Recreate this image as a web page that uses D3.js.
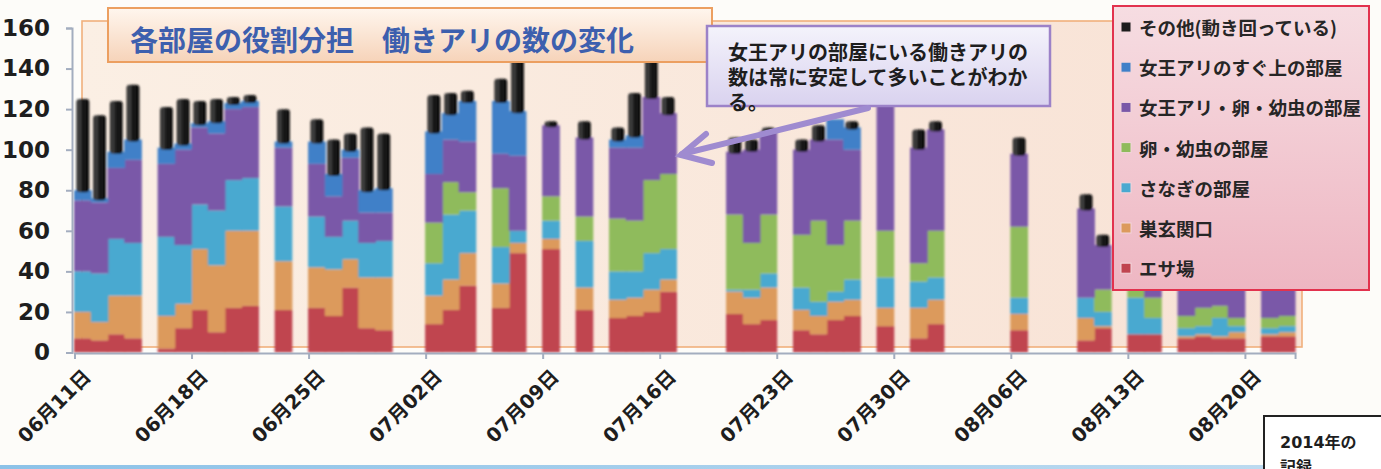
<!DOCTYPE html>
<html>
<head>
<meta charset="utf-8">
<script src="https://cdn.jsdelivr.net/npm/d3@7"></script>
<style>
  html, body { margin: 0; padding: 0; background: #fdfcf9; }
  svg { display: block; }
</style>
</head>
<body>
<svg id="chart" width="1381" height="469"></svg>
<script>
// Survey days (only days with a count are listed)
const days = [
  "2014-06-11","2014-06-12","2014-06-13","2014-06-14","2014-06-16","2014-06-17","2014-06-18","2014-06-19",
  "2014-06-20","2014-06-21","2014-06-23","2014-06-25","2014-06-26","2014-06-27","2014-06-28","2014-06-29",
  "2014-07-02","2014-07-03","2014-07-04","2014-07-06","2014-07-07","2014-07-09","2014-07-11","2014-07-13",
  "2014-07-14","2014-07-15","2014-07-16","2014-07-20","2014-07-21","2014-07-22","2014-07-24","2014-07-25",
  "2014-07-26","2014-07-27","2014-07-29","2014-07-31","2014-08-01","2014-08-06","2014-08-10","2014-08-11",
  "2014-08-13","2014-08-14","2014-08-16","2014-08-17","2014-08-18","2014-08-19","2014-08-21","2014-08-22"
];

// Worker ants per room (stacked bottom to top)
const esaba      = [7,6,9,7,2,12,21,10,22,23,21,22,18,32,12,11,14,21,33,22,49,51,21,17,18,20,30,19,14,16,11,9,16,18,13,7,14,11,6,12,9,9,7,8,7,7,8,8];
const genkan     = [13,9,19,21,16,12,30,33,38,37,24,20,23,14,25,26,14,15,16,12,5,5,11,9,9,11,6,11,13,16,10,9,9,8,9,15,12,8,11,1,0,0,1,1,1,3,1,2];
const sanagi     = [20,24,28,26,39,29,22,27,25,26,27,25,16,19,17,18,16,32,21,18,6,9,23,14,13,18,15,1,4,7,11,7,5,10,15,13,11,8,10,7,18,8,4,4,9,3,3,3];
const youchu     = [0,0,0,0,0,0,0,0,0,0,0,0,0,0,0,0,20,16,9,29,0,12,12,26,25,36,37,37,23,29,26,40,23,29,23,9,23,35,0,11,11,10,6,9,6,4,5,5];
const joouRoom   = [35,35,35,41,36,47,38,38,35,35,29,26,20,31,15,14,24,21,25,17,37,35,39,35,36,41,30,31,46,41,42,40,52,35,68,57,50,36,44,22,14,19,42,40,38,44,42,44];
const joouUe     = [5,2,8,10,8,3,2,6,3,3,3,11,11,4,11,12,21,13,20,26,22,0,0,4,6,0,0,0,0,0,0,0,10,11,0,0,0,0,0,0,0,0,0,0,0,0,0,0];
const sonota     = [45,41,25,27,20,22,11,11,3,3,16,11,17,8,31,27,18,10,5,11,27,2,8,6,21,20,8,7,5,2,5,7,0,3,4,9,4,8,7,5,4,4,4,4,4,4,4,4];

const seriesNames = ["エサ場","巣玄関口","さなぎの部屋","卵・幼虫の部屋","女王アリ・卵・幼虫の部屋","女王アリのすぐ上の部屋","その他(動き回っている)"];
const seriesColors = ["#c0444f","#dc9a5c","#4aa9d0","#8fbb5b","#7a58a8","#3f80c8","#1c1c1c"];
const seriesValues = [esaba, genkan, sanagi, youchu, joouRoom, joouUe, sonota];

const tickDays = ["2014-06-11","2014-06-18","2014-06-25","2014-07-02","2014-07-09","2014-07-16","2014-07-23","2014-07-30","2014-08-06","2014-08-13","2014-08-20"];
const yTicks = [0,20,40,60,80,100,120,140,160];

const titleText = "各部屋の役割分担　働きアリの数の変化";
const noteLines = ["女王アリの部屋にいる働きアリの","数は常に安定して多いことがわか","る。"];
const yearLines = ["2014年の","記録"];

const parse = d3.utcParse("%Y-%m-%d");
const fmt = d3.utcFormat("%m月%d日");
const numFont = "'DejaVu Sans', 'Noto Sans CJK JP', sans-serif";
const cjkFont = "'Noto Sans CJK JP', sans-serif";

// table for stacking
const keys = seriesNames.map((_, i) => "s" + i);
const rows = days.map((d, j) => {
  const r = { date: parse(d) };
  seriesValues.forEach((arr, i) => { r["s" + i] = arr[j]; });
  return r;
});
const stacked = d3.stack().keys(keys)(rows);

const svg = d3.select("#chart");
const defs = svg.append("defs");

function grad(id, stops, horizontal) {
  const g = defs.append("linearGradient").attr("id", id)
    .attr("x1", 0).attr("y1", 0).attr("x2", horizontal ? 1 : 0).attr("y2", horizontal ? 0 : 1);
  stops.forEach(([o, c]) => g.append("stop").attr("offset", o).attr("stop-color", c));
}
grad("plotBg", [[0, "#fbefe4"], [1, "#f8e2d5"]], true);
grad("titleBg", [[0, "#fff6ee"], [1, "#f6d3b9"]]);
grad("noteBg", [[0, "#f4f3fb"], [1, "#d9d2ef"]]);
grad("legendBg", [[0, "#f6dde2"], [1, "#eeb6c2"]]);
grad("blackBar", [[0, "#0c0c0c"], [0.22, "#4a4a4a"], [0.4, "#1e1e1e"], [1, "#0a0a0a"]], true);
grad("blueLine", [[0, "#8cc2e8"], [1, "#bcdaf0"]], true);
defs.append("filter").attr("id", "soft").attr("x", "-5%").attr("y", "-5%").attr("width", "110%").attr("height", "110%")
  .append("feGaussianBlur").attr("stdDeviation", 0.9);

// scales
const dayW = 16.72;
const x = d3.scaleUtc()
  .domain([parse("2014-06-11"), parse("2014-08-23")])
  .range([74.5, 74.5 + 73 * dayW]);
const y = d3.scaleLinear().domain([0, 160]).range([352.5, 28]);

// plot area
svg.append("rect").attr("x", 82).attr("y", 21).attr("width", 1220).attr("height", 326)
  .attr("fill", "url(#plotBg)").attr("stroke", "#f1b07c").attr("stroke-width", 1.6);

// coloured room layers
const bars = svg.append("g").attr("filter", "url(#soft)");
stacked.slice(0, 6).forEach((layer, i) => {
  bars.append("g").attr("fill", seriesColors[i])
    .selectAll("rect").data(layer.filter(d => d[1] > d[0])).join("rect")
    .attr("x", d => x(d.data.date) - 0.5)
    .attr("width", d => x(d3.utcDay.offset(d.data.date, 1)) - x(d.data.date) + 1)
    .attr("y", d => y(d[1]))
    .attr("height", d => y(d[0]) - y(d[1]));
});

// moving-around ants drawn as separate rounded caps
bars.append("g").selectAll("rect").data(stacked[6].filter(d => d[1] > d[0])).join("rect")
  .attr("x", d => x(d.data.date) + 2)
  .attr("width", d => x(d3.utcDay.offset(d.data.date, 1)) - x(d.data.date) - 4)
  .attr("y", d => y(d[1]))
  .attr("height", d => y(d[0]) - y(d[1]) + 2)
  .attr("rx", 3)
  .attr("fill", "url(#blackBar)");

// axes
const axisColor = "#a3adbf";
const yAxis = svg.append("g").attr("transform", "translate(72,0)")
  .call(d3.axisLeft(y).tickValues(yTicks).tickSize(6).tickPadding(16));
const xAxis = svg.append("g").attr("transform", "translate(0,353)")
  .call(d3.axisBottom(x).tickValues(tickDays.map(parse)).tickSize(6).tickFormat(fmt));
[yAxis, xAxis].forEach(a => {
  a.select(".domain").attr("stroke", axisColor).attr("stroke-width", 2);
  a.selectAll(".tick line").attr("stroke", axisColor).attr("stroke-width", 2);
});
yAxis.selectAll("text").attr("font-family", numFont).attr("font-weight", 700)
  .attr("font-size", 23).attr("fill", "#1e1e1e");
xAxis.selectAll("text").attr("font-family", numFont).attr("font-weight", 700)
  .attr("font-size", 19.5).attr("fill", "#1e1e1e")
  .attr("text-anchor", "end").attr("x", 0).attr("y", 0).attr("dy", 0)
  .attr("transform", "translate(17,25) rotate(-45)");

// title box
svg.append("rect").attr("x", 108).attr("y", 8).attr("width", 604).attr("height", 54)
  .attr("fill", "url(#titleBg)").attr("stroke", "#ec9f60").attr("stroke-width", 2);
svg.append("text").attr("x", 130).attr("y", 39).attr("dominant-baseline", "central")
  .attr("font-family", cjkFont).attr("font-weight", 700).attr("font-size", 28)
  .attr("fill", "#3d5fae").text(titleText);

// note box with arrow
svg.append("rect").attr("x", 707).attr("y", 26).attr("width", 343).attr("height", 80)
  .attr("fill", "url(#noteBg)").attr("stroke", "#9c82c8").attr("stroke-width", 2.5);
svg.append("g").selectAll("text").data(noteLines).join("text")
  .attr("x", 728).attr("y", (d, i) => 51 + i * 25).attr("dominant-baseline", "central")
  .attr("font-family", cjkFont).attr("font-weight", 700).attr("font-size", 20)
  .attr("fill", "#1e1e1e").text(d => d);
const arrow = svg.append("g").attr("stroke", "#9f8bd0").attr("stroke-width", 6)
  .attr("stroke-linecap", "round").attr("fill", "none");
arrow.append("line").attr("x1", 868).attr("y1", 108).attr("x2", 682).attr("y2", 154);
arrow.append("polyline").attr("points", "706,134 681,155 712,163");

// legend
svg.append("rect").attr("x", 1113).attr("y", 6).attr("width", 256).attr("height", 284)
  .attr("fill", "url(#legendBg)").attr("stroke", "#e2324e").attr("stroke-width", 2);
const legendRows = seriesNames.map((n, i) => ({ name: n, color: seriesColors[i] })).reverse();
const lg = svg.append("g").selectAll("g").data(legendRows).join("g")
  .attr("transform", (d, i) => `translate(1121,${27 + i * 40.2})`);
lg.append("rect").attr("x", 0).attr("y", -5).attr("width", 10).attr("height", 10)
  .attr("fill", d => d.color).attr("stroke", "#f2d6dc").attr("stroke-width", 1);
lg.append("text").attr("x", 18).attr("y", 0).attr("dominant-baseline", "central")
  .attr("font-family", cjkFont).attr("font-weight", 700).attr("font-size", 18.5)
  .attr("fill", "#262626").text(d => d.name);

// bottom strip and year box
svg.append("rect").attr("x", 0).attr("y", 465).attr("width", 1264).attr("height", 4).attr("fill", "url(#blueLine)");
svg.append("rect").attr("x", 1264).attr("y", 416).attr("width", 130).attr("height", 62)
  .attr("fill", "#ffffff").attr("stroke", "#222").attr("stroke-width", 2);
svg.append("g").selectAll("text").data(yearLines).join("text")
  .attr("x", 1280).attr("y", (d, i) => 442 + i * 25).attr("dominant-baseline", "central")
  .attr("font-family", numFont).attr("font-weight", 700).attr("font-size", 16)
  .attr("fill", "#1e1e1e").text(d => d);
</script>
</body>
</html>
